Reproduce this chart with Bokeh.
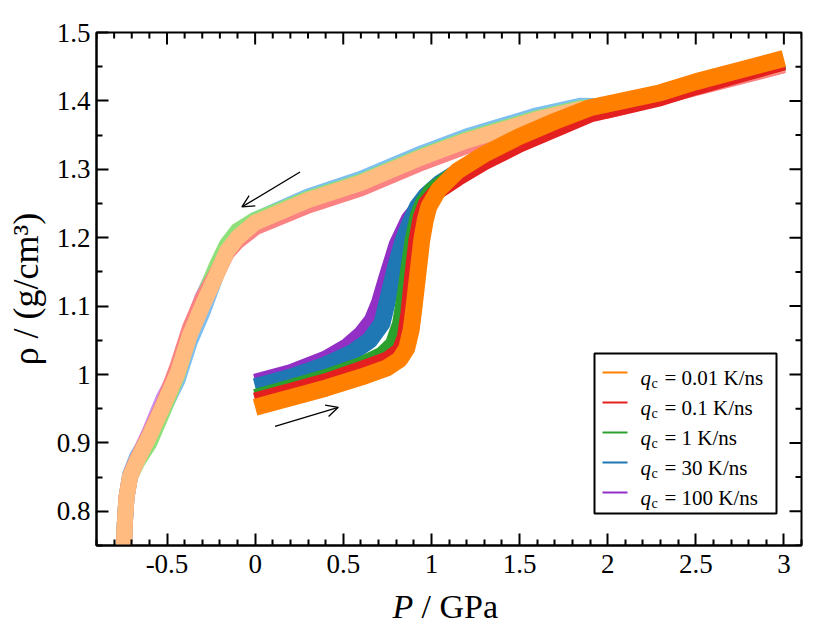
import math
from bokeh.plotting import figure
from bokeh.models import FixedTicker, Range1d, Label, Arrow, OpenHead, BoxAnnotation
from bokeh.embed import file_html
from bokeh.resources import INLINE

# ---------------- data ----------------
rates = ["0.01", "0.1", "1", "30", "100"]

# compression branches (0 -> 3 GPa)
P_c_001 = [0.0, 0.2, 0.4, 0.6, 0.75, 0.82, 0.86, 0.885, 0.9, 0.92, 0.945, 0.965, 0.985, 1.04, 1.15, 1.3, 1.5, 1.7, 1.9, 2.1, 2.3, 2.5, 2.75, 3.0]
r_c_001 = [0.952, 0.966, 0.98, 0.996, 1.01, 1.022, 1.038, 1.065, 1.095, 1.14, 1.196, 1.225, 1.245, 1.27, 1.298, 1.322, 1.348, 1.37, 1.39, 1.401, 1.412, 1.428, 1.445, 1.462]

P_c_01 = [0.0, 0.2, 0.4, 0.6, 0.75, 0.82, 0.85, 0.87, 0.89, 0.915, 0.94, 0.97, 1.02, 1.15, 1.3, 1.5, 1.7, 1.9, 2.1, 2.3, 2.5, 2.75, 3.0]
r_c_01 = [0.962, 0.976, 0.99, 1.008, 1.022, 1.035, 1.055, 1.09, 1.14, 1.196, 1.23, 1.25, 1.265, 1.287, 1.31, 1.336, 1.358, 1.38, 1.392, 1.404, 1.42, 1.438, 1.456]

P_c_1 = [0.0, 0.2, 0.4, 0.6, 0.72, 0.78, 0.82, 0.85, 0.87, 0.89, 0.92, 0.95, 1.0, 1.15, 1.3, 1.5, 1.7, 1.9, 2.1, 2.3, 2.5, 2.75, 3.0]
r_c_1 = [0.968, 0.982, 0.997, 1.015, 1.03, 1.045, 1.075, 1.123, 1.16, 1.196, 1.232, 1.252, 1.27, 1.298, 1.322, 1.348, 1.368, 1.388, 1.399, 1.41, 1.425, 1.442, 1.459]

P_c_30 = [0.0, 0.2, 0.4, 0.55, 0.65, 0.72, 0.765, 0.8, 0.84, 0.88, 0.92, 0.97, 1.05, 1.15, 1.3, 1.5, 1.7, 1.9, 2.1, 2.3, 2.5, 2.75, 3.0]
r_c_30 = [0.982, 0.996, 1.014, 1.032, 1.05, 1.075, 1.123, 1.16, 1.196, 1.222, 1.245, 1.262, 1.28, 1.296, 1.318, 1.344, 1.366, 1.386, 1.398, 1.409, 1.424, 1.441, 1.458]

P_c_100 = [0.0, 0.2, 0.4, 0.52, 0.6, 0.66, 0.7, 0.74, 0.8, 0.87, 0.96, 1.08, 1.2, 1.35, 1.5, 1.7, 1.9, 2.1, 2.3, 2.5, 2.75, 3.0]
r_c_100 = [0.99, 1.004, 1.024, 1.042, 1.06, 1.08, 1.105, 1.14, 1.19, 1.228, 1.256, 1.282, 1.302, 1.325, 1.345, 1.366, 1.386, 1.398, 1.409, 1.424, 1.441, 1.458]

# decompression branches (3 GPa -> negative pressure)
P_d = [3.0, 2.5, 2.0, 1.85, 1.6, 1.2, 0.95, 0.6, 0.3, 0.0, -0.1, -0.16, -0.22, -0.3, -0.37, -0.44, -0.52, -0.6, -0.67, -0.71, -0.73, -0.74, -0.745]
r_d_001 = [1.455, 1.422, 1.39, 1.388, 1.373, 1.342, 1.318, 1.28, 1.255, 1.222, 1.2, 1.18, 1.145, 1.1, 1.058, 1.002, 0.955, 0.91, 0.874, 0.85, 0.82, 0.78, 0.74]
r_d_01 = [1.452, 1.419, 1.386, 1.382, 1.366, 1.334, 1.31, 1.272, 1.247, 1.215, 1.195, 1.178, 1.147, 1.11, 1.068, 1.012, 0.957, 0.912, 0.876, 0.851, 0.82, 0.78, 0.74]
r_d_1 = [1.455, 1.422, 1.391, 1.39, 1.375, 1.344, 1.32, 1.282, 1.257, 1.226, 1.21, 1.19, 1.158, 1.108, 1.06, 1.0, 0.948, 0.9, 0.872, 0.85, 0.82, 0.78, 0.74]
r_d_30 = [1.455, 1.422, 1.392, 1.393, 1.379, 1.348, 1.324, 1.286, 1.26, 1.226, 1.202, 1.182, 1.146, 1.09, 1.048, 0.992, 0.95, 0.908, 0.88, 0.853, 0.82, 0.78, 0.74]
r_d_100 = [1.455, 1.422, 1.391, 1.39, 1.376, 1.345, 1.321, 1.283, 1.258, 1.225, 1.205, 1.186, 1.155, 1.112, 1.062, 1.004, 0.965, 0.915, 0.876, 0.85, 0.82, 0.78, 0.74]

x_ticks = [-0.5, 0.0, 0.5, 1.0, 1.5, 2.0, 2.5, 3.0]
x_tick_labels = ["-0.5", "0", "0.5", "1", "1.5", "2", "2.5", "3"]
x_minor = [-0.9, -0.8, -0.7, -0.6, -0.4, -0.3, -0.2, -0.1, 0.1, 0.2, 0.3, 0.4, 0.6, 0.7, 0.8, 0.9,
           1.1, 1.2, 1.3, 1.4, 1.6, 1.7, 1.8, 1.9, 2.1, 2.2, 2.3, 2.4, 2.6, 2.7, 2.8, 2.9, 3.1]
y_ticks = [0.8, 0.9, 1.0, 1.1, 1.2, 1.3, 1.4, 1.5]
y_tick_labels = ["0.8", "0.9", "1", "1.1", "1.2", "1.3", "1.4", "1.5"]
y_minor = [0.75, 0.85, 0.95, 1.05, 1.15, 1.25, 1.35, 1.45]

# ---------------- styles ----------------
dark = ["#ff8000", "#e41f1f", "#2ca02c", "#1f77b4", "#9230c6"]
pale = ["#ffbb80", "#fa8282", "#8ee07a", "#7fbff0", "#cc8ef0"]
SERIF = "Liberation Serif"

X0, X1, Y0, Y1 = -0.9, 3.1, 0.75, 1.5
FL, FR, FT, FB = 96, 801, 32, 545   # frame in page pixels


def px_x(px):
    return X0 + (px - FL) / (FR - FL) * (X1 - X0)


def px_y(py):
    return Y1 - (py - FT) / (FB - FT) * (Y1 - Y0)


p = figure(width=828, height=634, x_range=Range1d(X0, X1), y_range=Range1d(Y0, Y1),
           output_backend="svg", toolbar_location=None,
           min_border_left=96, min_border_right=27, min_border_top=32, min_border_bottom=89)
p.xgrid.visible = False
p.ygrid.visible = False
p.outline_line_color = "black"
p.outline_line_width = 2
p.background_fill_color = "white"
p.border_fill_color = "white"

xt = FixedTicker(ticks=x_ticks, minor_ticks=x_minor)
yt = FixedTicker(ticks=y_ticks, minor_ticks=y_minor)

for ax in (p.xaxis[0], p.yaxis[0]):
    ax.axis_line_width = 2
    ax.axis_line_color = "black"
    ax.major_tick_in = 12
    ax.major_tick_out = 0
    ax.minor_tick_in = 6
    ax.minor_tick_out = 0
    ax.major_tick_line_width = 2
    ax.minor_tick_line_width = 2
    ax.major_tick_line_color = "black"
    ax.minor_tick_line_color = "black"
    ax.major_label_text_font = SERIF
    ax.major_label_text_font_size = "27px"
    ax.major_label_text_color = "black"

p.xaxis[0].ticker = xt
p.yaxis[0].ticker = yt
p.xaxis[0].major_label_overrides = {t: l for t, l in zip(x_ticks, x_tick_labels)}
p.yaxis[0].major_label_overrides = {t: l for t, l in zip(y_ticks, y_tick_labels)}
p.xaxis[0].major_label_standoff = 9
p.yaxis[0].major_label_standoff = 6

# y title through the axis
p.yaxis[0].axis_label = "ρ / (g/cm³)"
p.yaxis[0].axis_label_text_font = SERIF
p.yaxis[0].axis_label_text_font_size = "36px"
p.yaxis[0].axis_label_text_font_style = "normal"
p.yaxis[0].axis_label_text_color = "black"
p.yaxis[0].axis_label_standoff = 8

# mirrored ticks on the top and right edges (inward)
p.ray(x=x_ticks, y=[Y1] * len(x_ticks), length=12, length_units="screen", angle=-math.pi / 2,
      line_color="black", line_width=2)
p.ray(x=x_minor, y=[Y1] * len(x_minor), length=6, length_units="screen", angle=-math.pi / 2,
      line_color="black", line_width=2)
p.ray(x=[X1] * len(y_ticks), y=y_ticks, length=12, length_units="screen", angle=math.pi,
      line_color="black", line_width=2)
p.ray(x=[X1] * len(y_minor), y=y_minor, length=6, length_units="screen", angle=math.pi,
      line_color="black", line_width=2)

dec = [r_d_001, r_d_01, r_d_1, r_d_30, r_d_100]
comp = [(P_c_001, r_c_001), (P_c_01, r_c_01), (P_c_1, r_c_1), (P_c_30, r_c_30), (P_c_100, r_c_100)]
widths = [17, 16, 15, 17, 15]

for i in [4, 3, 2, 1, 0]:
    p.line(P_d, dec[i], line_color=pale[i], line_width=16, line_join="round", line_cap="butt")
for i in [4, 3, 2, 1, 0]:
    Pc, rc = comp[i]
    p.line(Pc, rc, line_color=dark[i], line_width=widths[i], line_join="round", line_cap="butt")

# arrows
p.add_layout(Arrow(end=OpenHead(size=12, line_width=1.3, line_color="black"),
                   x_start=0.255, y_start=1.296, x_end=-0.075, y_end=1.245,
                   line_width=1.3, line_color="black"))
p.add_layout(Arrow(end=OpenHead(size=12, line_width=1.3, line_color="black"),
                   x_start=0.113, y_start=0.924, x_end=0.472, y_end=0.952,
                   line_width=1.3, line_color="black"))

# legend (drawn by hand so that q can be italic with subscript c)
p.add_layout(BoxAnnotation(left=px_x(594), right=px_x(776), top=px_y(353), bottom=px_y(513),
                           fill_color="white", fill_alpha=1, line_color="black", line_alpha=1,
                           line_width=2))
for k, rate in enumerate(rates):
    row = 372 + 30 * k
    p.add_layout(Arrow(end=None, x_start=px_x(602), y_start=px_y(row), x_end=px_x(627), y_end=px_y(row),
                       line_color=dark[k], line_width=2))
    p.add_layout(Label(x=px_x(640), y=px_y(row + 5), text="q", text_font=SERIF, text_font_style="italic",
                       text_font_size="21px", text_baseline="alphabetic", text_color="black"))
    p.add_layout(Label(x=px_x(651), y=px_y(row + 11), text="c", text_font=SERIF,
                       text_font_size="14px", text_baseline="alphabetic", text_color="black"))
    p.add_layout(Label(x=px_x(664), y=px_y(row + 5), text="= " + rate + " K/ns", text_font=SERIF,
                       text_font_size="21px", text_baseline="alphabetic", text_color="black"))

# x title: the two parts sit in side panels so that the frame does not clip them
p.add_layout(Label(x=px_x(392), y=px_y(606), text="P", text_font=SERIF, text_font_style="italic",
                   text_font_size="34px", text_baseline="alphabetic", text_color="black"), "right")
p.add_layout(Label(x=px_x(421), y=px_y(606), text="/ GPa", text_font=SERIF,
                   text_font_size="34px", text_baseline="alphabetic", text_color="black"), "below")

open("out.html", "w").write(file_html(p, INLINE))
